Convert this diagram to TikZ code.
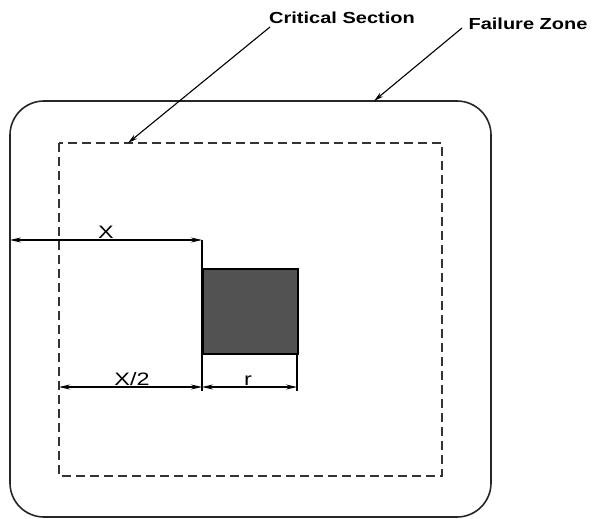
\documentclass[tikz,border=0pt]{standalone}
\usepackage{fontspec}
\setmainfont{Liberation Sans}
\usetikzlibrary{arrows.meta}
\begin{document}
\begin{tikzpicture}[x=1pt,y=-1pt,
  outline/.style={line width=1.6pt, rounded corners=34pt, draw=black!85},
  dashbox/.style={line width=1.5pt, dash pattern=on 9pt off 5pt, draw=black!80},
  leader/.style={line width=1.1pt, -{Stealth[length=10pt,width=5pt]}},
  dimline/.style={line width=1.1pt, {Stealth[length=11pt,width=5pt]}-{Stealth[length=11pt,width=5pt]}},
  extline/.style={line width=1.1pt},
  lab/.style={font=\fontsize{16}{18}\selectfont\bfseries, inner sep=0pt, xscale=1.25},
  dimlab/.style={font=\fontsize{18}{20}\selectfont, inner sep=0pt, xscale=1.3}]
\useasboundingbox (0,0) rectangle (597,519);
% outer failure zone
\draw[outline] (10,101) rectangle (491,517);
% critical section
\draw[dashbox] (59,143) rectangle (442,476);
% column
\node[draw=black, line width=1.8pt, fill=black!68, minimum width=95pt, minimum height=85pt, inner sep=0pt, anchor=north west] (col) at (202,268) {};
% labels
\node[lab] (cs) at (342,18) {Critical Section};
\node[lab] (fz) at (528,24) {Failure Zone};
\coordinate (csS) at (270,27);
\coordinate (csE) at (128,143);
\coordinate (fzS) at (462,28);
\coordinate (fzE) at (374,101);
\draw[leader] (csS) -- (csE);
\draw[leader] (fzS) -- (fzE);
% dimension helpers
\coordinate (xl) at (10,240);
\coordinate (xr) at (202,240);
\coordinate (ext1b) at (202,391);
\coordinate (ext2t) at (297,353);
\coordinate (ext2b) at (297,391);
\coordinate (hl) at (59,387);
\coordinate (hm) at (202,387);
\coordinate (hr) at (297,387);
\draw[extline] (xr) -- (ext1b);
\draw[extline] (ext2t) -- (ext2b);
\draw[dimline] (xl) -- (xr);
\draw[dimline] (hl) -- (hm);
\draw[dimline] (hm) -- (hr);
\node[dimlab, anchor=south] (xlab) at (106,239) {X};
\node[dimlab, anchor=south] (hlab) at (132,386) {X/2};
\node[dimlab, anchor=south] (rlab) at (248,386) {r};
\end{tikzpicture}
\end{document}
